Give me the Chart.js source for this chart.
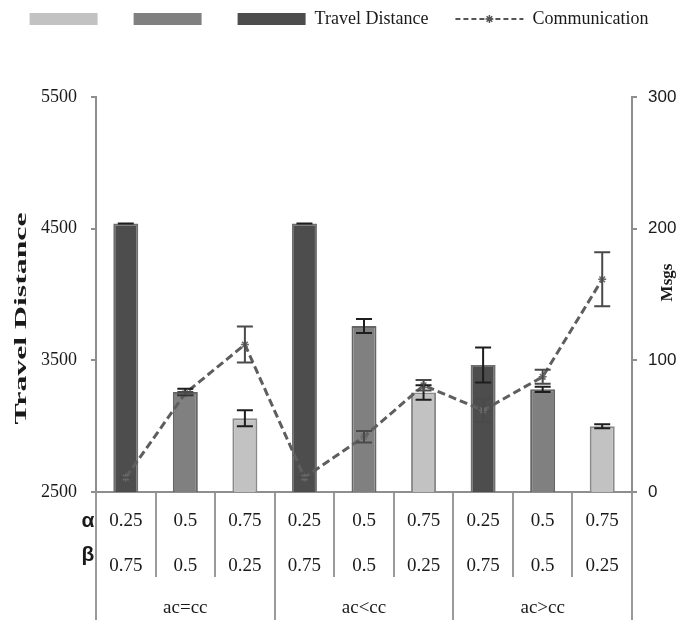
<!DOCTYPE html>
<html>
<head>
<meta charset="utf-8">
<script src="https://cdn.jsdelivr.net/npm/chart.js@4.4.1/dist/chart.umd.min.js"></script>
<style>
  html, body { margin: 0; padding: 0; background: #ffffff; }
  canvas { display: block; }
</style>
</head>
<body>
<canvas id="chart" width="678" height="620"></canvas>
<script>
// Parameter settings per bar (alpha / beta) and scenario groups
const alphaValues = ['0.25', '0.5', '0.75', '0.25', '0.5', '0.75', '0.25', '0.5', '0.75'];
const betaValues  = ['0.75', '0.5', '0.25', '0.75', '0.5', '0.25', '0.75', '0.5', '0.25'];
const groupLabels = ['ac=cc', 'ac<cc', 'ac>cc'];

// Travel distance (left axis) with error half-widths
const travelDistance    = [4540, 3260, 3060, 4540, 3760, 3255, 3465, 3280, 3000];
const travelDistanceErr = [0, 25, 60, 0, 53, 55, 133, 20, 15];

// Communication messages (right axis) with error half-widths
const communication    = [11, 75, 112, 11, 42, 81, 62, 87.5, 161.5];
const communicationErr = [0, 1, 13.7, 0, 4.4, 4, 8.9, 5.3, 20.5];

// Axis tick values
const distanceTicks = [2500, 3500, 4500, 5500];
const msgTicks = [0, 100, 200, 300];

const SERIF = "'Liberation Serif', 'Times New Roman', serif";
const SANS = "'Liberation Sans', Arial, sans-serif";
const AXIS_GRAY = '#8e8e8e';
const TEXT = '#1a1a1a';

// one bar series per alpha shade, in legend order
const shades = [
  { alpha: '0.75', label: '', fill: '#c2c2c2', border: '#8a8a8a' },
  { alpha: '0.5', label: '', fill: '#808080', border: '#666666' },
  { alpha: '0.25', label: 'Travel Distance', fill: '#4d4d4d', border: '#6f6f6f' }
];

const barDatasets = shades.map(s => ({
  type: 'bar',
  label: s.label,
  data: travelDistance.map((v, i) => alphaValues[i] === s.alpha ? v : null),
  errors: travelDistanceErr.map((e, i) => alphaValues[i] === s.alpha ? e : null),
  errorColor: '#1e1e1e',
  backgroundColor: s.fill,
  borderColor: s.border,
  borderWidth: 2,
  grouped: false,
  barPercentage: 0.42,
  categoryPercentage: 1,
  yAxisID: 'y',
  order: 1
}));

const lineDataset = {
  type: 'line',
  label: 'Communication',
  data: communication,
  errors: communicationErr,
  errorColor: '#4a4a4a',
  borderColor: '#5e5e5e',
  backgroundColor: '#5e5e5e',
  borderWidth: 3,
  borderDash: [8, 4],
  pointStyle: 'star',
  pointRadius: 4,
  pointBorderColor: '#6a6a6a',
  pointBorderWidth: 1.5,
  fill: false,
  tension: 0,
  yAxisID: 'y2',
  order: 0
};

// Error bars drawn through each dataset's own value scale
const errorBars = {
  id: 'errorBars',
  afterDatasetsDraw(chart) {
    const ctx = chart.ctx;
    chart.data.datasets.forEach((ds, di) => {
      if (!ds.errors) return;
      const meta = chart.getDatasetMeta(di);
      const yScale = chart.scales[meta.yAxisID];
      ctx.save();
      ctx.strokeStyle = ds.errorColor;
      ctx.lineWidth = 2;
      ctx.setLineDash([]);
      meta.data.forEach((el, i) => {
        const v = ds.data[i];
        const e = ds.errors[i];
        if (v == null || e == null) return;
        const x = el.x;
        const yHi = yScale.getPixelForValue(v + e);
        const yLo = yScale.getPixelForValue(v - e);
        const cap = 8;
        ctx.beginPath();
        ctx.moveTo(x, yHi); ctx.lineTo(x, yLo);
        ctx.moveTo(x - cap, yHi); ctx.lineTo(x + cap, yHi);
        ctx.moveTo(x - cap, yLo); ctx.lineTo(x + cap, yLo);
        ctx.stroke();
      });
      ctx.restore();
    });
  }
};

// Leaves room between the legend row and the plot
const legendSpacing = {
  id: 'legendSpacing',
  beforeInit(chart) {
    const fit = chart.legend.fit;
    chart.legend.fit = function () {
      fit.call(this);
      this.height = 114;
    };
  }
};

// Axis titles, row headers and the dashed legend sample
const annotations = {
  id: 'annotations',
  afterDraw(chart) {
    const ctx = chart.ctx;
    const area = chart.chartArea;
    const xScale = chart.scales.x;
    ctx.save();
    ctx.fillStyle = TEXT;
    ctx.textAlign = 'center';
    ctx.textBaseline = 'middle';

    // left axis title
    ctx.save();
    ctx.translate(22, (area.top + area.bottom) / 2 + 24);
    ctx.rotate(-Math.PI / 2);
    ctx.font = 'bold 17px ' + SERIF;
    const w = ctx.measureText('Travel Distance').width;
    ctx.scale(212 / w, 1);
    ctx.fillText('Travel Distance', 0, 0);
    ctx.restore();

    // right axis title
    ctx.save();
    ctx.translate(668, (area.top + area.bottom) / 2 - 12);
    ctx.rotate(-Math.PI / 2);
    ctx.font = 'bold 17px ' + SERIF;
    ctx.fillText('Msgs', 0, 0);
    ctx.restore();

    // row headers for the parameter rows
    ctx.font = 'bold 21px ' + SANS;
    ctx.fillText('\u03b1', area.left - 8, xScale.top + 29);
    ctx.fillText('\u03b2', area.left - 8, xScale.top + 63);
    ctx.restore();

    // dashed line sample with a star marker for the line series
    const legend = chart.legend;
    legend.legendItems.forEach((item, k) => {
      const ds = chart.data.datasets[item.datasetIndex];
      if (ds.type !== 'line') return;
      const hb = legend.legendHitBoxes[k];
      const bw = legend.options.labels.boxWidth;
      const cy = hb.top + hb.height / 2;
      ctx.save();
      ctx.strokeStyle = '#555555';
      ctx.lineWidth = 2;
      ctx.setLineDash([5, 3]);
      ctx.beginPath();
      ctx.moveTo(hb.left, cy);
      ctx.lineTo(hb.left + bw, cy);
      ctx.stroke();
      ctx.setLineDash([]);
      ctx.strokeStyle = '#555555';
      ctx.lineWidth = 1.5;
      Chart.helpers.drawPoint(ctx, { pointStyle: 'star', radius: 4, rotation: 0, borderWidth: 1.5 }, hb.left + bw / 2, cy);
      ctx.restore();
    });
  }
};

const plainNumber = v => String(v);

new Chart(document.getElementById('chart'), {
  type: 'bar',
  data: {
    labels: alphaValues.map((a, i) => [a, betaValues[i]]),
    datasets: [...barDatasets, lineDataset]
  },
  options: {
    responsive: false,
    animation: false,
    devicePixelRatio: 1,
    layout: { padding: { top: -17, left: 0, right: 0, bottom: 0 } },
    plugins: {
      tooltip: { enabled: false },
      legend: {
        position: 'top',
        labels: {
          boxWidth: 68,
          boxHeight: 12,
          padding: 27,
          color: TEXT,
          font: { family: SERIF, size: 18 },
          sort: (a, b) => a.datasetIndex - b.datasetIndex,
          generateLabels(chart) {
            const items = Chart.defaults.plugins.legend.labels.generateLabels(chart);
            items.forEach(it => {
              it.lineWidth = 0;
              it.strokeStyle = 'rgba(0,0,0,0)';
              if (chart.data.datasets[it.datasetIndex].type === 'line') {
                it.fillStyle = 'rgba(0,0,0,0)';
                it.lineDash = [];
              }
            });
            return items;
          }
        }
      }
    },
    scales: {
      x: {
        type: 'category',
        position: 'bottom',
        offset: true,
        border: { display: true, color: AXIS_GRAY, width: 2 },
        grid: { offset: true, drawOnChartArea: false, drawTicks: true, tickLength: 85, color: '#9a9a9a', lineWidth: 2 },
        ticks: {
          autoSkip: false, maxRotation: 0, minRotation: 0,
          padding: -78.5,
          color: TEXT,
          font: { family: SERIF, size: 19, lineHeight: '45px' }
        },
        afterFit(scale) { scale.height = 85; }
      },
      x2: {
        type: 'category',
        position: 'bottom',
        labels: groupLabels,
        offset: true,
        border: { display: false },
        grid: { offset: true, drawOnChartArea: false, drawTicks: true, tickLength: 43, color: '#9a9a9a', lineWidth: 2 },
        ticks: {
          autoSkip: false, maxRotation: 0, minRotation: 0,
          padding: -23,
          color: TEXT,
          font: { family: SERIF, size: 19, lineHeight: '22px' }
        },
        afterFit(scale) { scale.height = 43; }
      },
      y: {
        type: 'linear',
        position: 'left',
        min: distanceTicks[0],
        max: distanceTicks[distanceTicks.length - 1],
        border: { display: true, color: AXIS_GRAY, width: 2 },
        grid: { drawOnChartArea: false, drawTicks: true, tickLength: 5, color: AXIS_GRAY, lineWidth: 2 },
        afterBuildTicks(scale) { scale.ticks = distanceTicks.map(v => ({ value: v })); },
        ticks: { padding: 14, color: TEXT, font: { family: SERIF, size: 18 }, callback: plainNumber },
        afterFit(scale) { scale.width = 96; }
      },
      y2: {
        type: 'linear',
        position: 'right',
        min: msgTicks[0],
        max: msgTicks[msgTicks.length - 1],
        border: { display: true, color: AXIS_GRAY, width: 2 },
        grid: { drawOnChartArea: false, drawTicks: true, tickLength: 5, color: AXIS_GRAY, lineWidth: 2 },
        afterBuildTicks(scale) { scale.ticks = msgTicks.map(v => ({ value: v })); },
        ticks: { padding: 11, color: TEXT, font: { family: SANS, size: 17 }, callback: plainNumber },
        afterFit(scale) { scale.width = 46; }
      }
    }
  },
  plugins: [legendSpacing, errorBars, annotations]
});
</script>
</body>
</html>
